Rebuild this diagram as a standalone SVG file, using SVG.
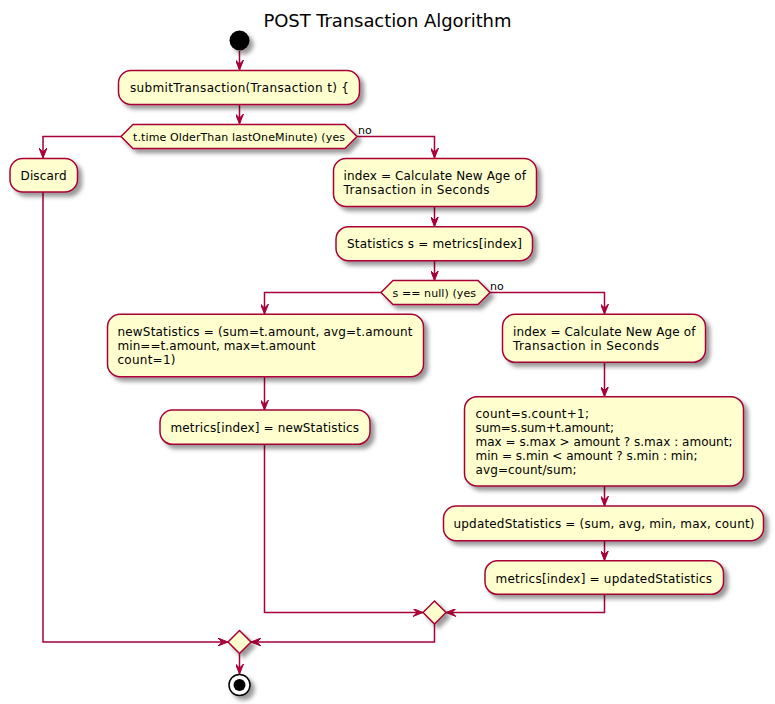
<svg xmlns="http://www.w3.org/2000/svg" width="775" height="704" viewBox="0 0 775 704">
<style>
.box{fill:#FEFECE;stroke:#A80036;stroke-width:1.5;filter:url(#sh)}
.t{font-family:"DejaVu Sans","Liberation Sans",sans-serif;font-size:12px;fill:#000}
.s{font-family:"DejaVu Sans","Liberation Sans",sans-serif;font-size:11px;fill:#000}
.c{fill:none;stroke:#A80036;stroke-width:1.5;marker-end:url(#ah)}
</style>
<defs>
<filter id="sh" x="-1" y="-1" width="300%" height="300%">
<feGaussianBlur stdDeviation="2" result="b"/>
<feColorMatrix in="b" type="matrix" values="0 0 0 0 0 0 0 0 0 0 0 0 0 0 0 0 0 0 .4 0" result="b2"/>
<feOffset dx="4" dy="4" in="b2" result="b3"/>
<feBlend in="SourceGraphic" in2="b3" mode="normal"/>
</filter>
<marker id="ah" viewBox="0 0 10 8" refX="10" refY="4" markerWidth="10" markerHeight="8" markerUnits="userSpaceOnUse" orient="auto">
<path d="M0,0 L10,4 L0,8 L4,4 Z" fill="#A80036" stroke="#A80036" stroke-width="1"/>
</marker>
</defs>
<text x="387.5" y="27" text-anchor="middle" font-family="DejaVu Sans,Liberation Sans,sans-serif" font-size="18" textLength="248" lengthAdjust="spacing">POST Transaction Algorithm</text>

<g id="connectors">
<path class="c" d="M239.5,51 L239.5,70"/>
<path class="c" d="M239.5,104.5 L239.5,124"/>
<path class="c" d="M121,136.5 L43,136.5 L43,158"/>
<path class="c" d="M357,136.5 L434.5,136.5 L434.5,158"/>
<path class="c" d="M434.5,206.7 L434.5,226.5"/>
<path class="c" d="M434.5,260.7 L434.5,280.5"/>
<path class="c" d="M381,292.5 L264.5,292.5 L264.5,314"/>
<path class="c" d="M490,292.5 L604.5,292.5 L604.5,314"/>
<path class="c" d="M264.5,376.7 L264.5,410"/>
<path class="c" d="M604.5,362.3 L604.5,396.5"/>
<path class="c" d="M604.5,486 L604.5,506"/>
<path class="c" d="M604.5,540.7 L604.5,560.5"/>
<path class="c" d="M264.5,444.3 L264.5,612.5 L423,612.5"/>
<path class="c" d="M604.5,594.3 L604.5,612.5 L446,612.5"/>
<path class="c" d="M434.5,624 L434.5,642 L251,642"/>
<path class="c" d="M43,192 L43,642 L228,642"/>
<path class="c" d="M239.5,653.5 L239.5,674"/>
<text class="s" x="358" y="134">no</text>
<text class="s" x="490" y="290">no</text>
</g>

<g id="start"><circle cx="239.5" cy="40.5" r="10" fill="#000" filter="url(#sh)"/></g>

<g id="submit"><rect class="box" x="118.5" y="70.5" width="241" height="34" rx="12.5"/>
<text class="t" x="130" y="92" textLength="219" lengthAdjust="spacing">submitTransaction(Transaction t) {</text></g>

<g id="dec1"><polygon class="box" points="121,136.5 133,124.5 345,124.5 357,136.5 345,148.5 133,148.5"/>
<text class="s" x="133" y="140.5" textLength="212" lengthAdjust="spacing">t.time OlderThan lastOneMinute) (yes</text></g>

<g id="discard"><rect class="box" x="10" y="158.5" width="67.5" height="33.5" rx="12.5"/>
<text class="t" x="20.5" y="180" textLength="46" lengthAdjust="spacing">Discard</text></g>

<g id="index1"><rect class="box" x="333.5" y="158.5" width="203" height="48" rx="12.5"/>
<text class="t" x="343.5" y="180" textLength="182.5" lengthAdjust="spacing">index = Calculate New Age of</text>
<text class="t" x="343.5" y="194" textLength="146" lengthAdjust="spacing">Transaction in Seconds</text></g>

<g id="stats"><rect class="box" x="336" y="226.7" width="196.5" height="34" rx="12.5"/>
<text class="t" x="347" y="248" textLength="175" lengthAdjust="spacing">Statistics s = metrics[index]</text></g>

<g id="dec2"><polygon class="box" points="381,292.5 393,280.5 478,280.5 490,292.5 478,304.5 393,304.5"/>
<text class="s" x="392.5" y="296.5" textLength="83.5" lengthAdjust="spacing">s == null) (yes</text></g>

<g id="newstats"><rect class="box" x="107.5" y="314.3" width="316" height="62.4" rx="12.5"/>
<text class="t" x="117.5" y="336" textLength="295" lengthAdjust="spacing">newStatistics = (sum=t.amount, avg=t.amount</text>
<text class="t" x="117.5" y="350" textLength="198" lengthAdjust="spacing">min==t.amount, max=t.amount</text>
<text class="t" x="117.5" y="364" textLength="58" lengthAdjust="spacing">count=1)</text></g>

<g id="metricsnew"><rect class="box" x="160" y="410" width="210" height="34.3" rx="12.5"/>
<text class="t" x="170.5" y="432" textLength="188.5" lengthAdjust="spacing">metrics[index] = newStatistics</text></g>

<g id="index2"><rect class="box" x="502.5" y="314.3" width="203" height="48" rx="12.5"/>
<text class="t" x="513" y="336" textLength="182.5" lengthAdjust="spacing">index = Calculate New Age of</text>
<text class="t" x="513" y="350" textLength="146" lengthAdjust="spacing">Transaction in Seconds</text></g>

<g id="update"><rect class="box" x="464.5" y="396.7" width="279" height="89.3" rx="12.5"/>
<text class="t" x="475.5" y="418" textLength="113.5" lengthAdjust="spacing">count=s.count+1;</text>
<text class="t" x="475.5" y="432" textLength="138.5" lengthAdjust="spacing">sum=s.sum+t.amount;</text>
<text class="t" x="475.5" y="446" textLength="257" lengthAdjust="spacing">max = s.max &gt; amount ? s.max : amount;</text>
<text class="t" x="475.5" y="460" textLength="222" lengthAdjust="spacing">min = s.min &lt; amount ? s.min : min;</text>
<text class="t" x="475.5" y="474" textLength="101" lengthAdjust="spacing">avg=count/sum;</text></g>

<g id="updated"><rect class="box" x="443.5" y="506" width="320" height="34.7" rx="12.5"/>
<text class="t" x="453.5" y="528" textLength="301" lengthAdjust="spacing">updatedStatistics = (sum, avg, min, max, count)</text></g>

<g id="metricsupd"><rect class="box" x="485" y="560.7" width="238.5" height="33.6" rx="12.5"/>
<text class="t" x="495.5" y="582.5" textLength="216.5" lengthAdjust="spacing">metrics[index] = updatedStatistics</text></g>

<g id="merge2"><polygon class="box" points="434.5,601 446,612.5 434.5,624 423,612.5"/></g>
<g id="merge1"><polygon class="box" points="239.5,630.5 251,642 239.5,653.5 228,642"/></g>

<g id="stop"><circle cx="239.5" cy="685" r="10.5" fill="#fff" stroke="#000" stroke-width="1.5" filter="url(#sh)"/>
<circle cx="239.5" cy="685" r="6" fill="#000"/></g>
</svg>
